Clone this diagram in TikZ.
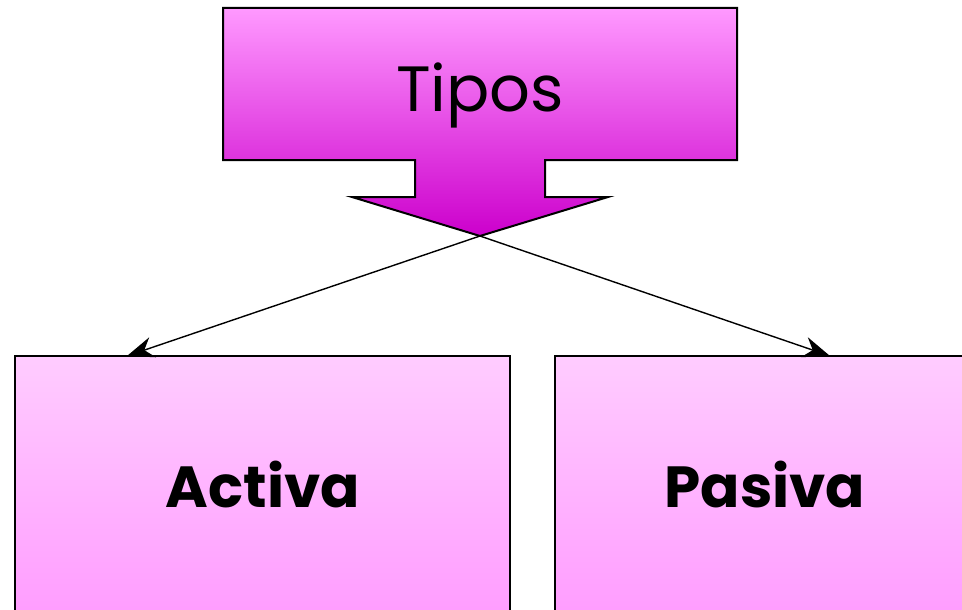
\documentclass[tikz,border=0pt]{standalone}
\usepackage{fontspec}
\setmainfont{Poppins}
\usetikzlibrary{arrows.meta}
\definecolor{lila}{HTML}{FF99FF}
\definecolor{lilaclaro}{HTML}{FFCCFF}
\definecolor{morado}{HTML}{CC00CC}
\begin{document}
\begin{tikzpicture}[x=1pt,y=-1pt,>={Stealth[length=27pt,width=21pt]}]
            \useasboundingbox (0,0) rectangle (962,610);
            \clip (0,0) rectangle (962,610);
            % caja con flecha hacia abajo
            \draw[line width=2pt,top color=lila,bottom color=morado]
                (223,8) -- (737,8) -- (737,160) -- (545,160) -- (545,197) -- (608,197)
                -- (480,236) -- (352,197) -- (415,197) -- (415,160) -- (223,160) -- cycle;
            \coordinate (punta) at (480,236);
            \node[font=\fontsize{64}{72}\selectfont] (tipos) at (480,95) {Tipos};
            \foreach \x/\c/\nombre/\fin in {15/263/Activa/127, 555/765/Pasiva/830} {
                \draw[line width=2pt,top color=lilaclaro,bottom color=lila] (\x,356) rectangle ++(495,280);
                \node[font=\bfseries\fontsize{58}{66}\selectfont] (\nombre) at (\c,484) {\nombre};
                \coordinate (\nombre-in) at (\fin,356);
            }
            \draw[line width=1.4pt,->] (punta) -- (Activa-in);
            \draw[line width=1.4pt,->] (punta) -- (Pasiva-in);
        \end{tikzpicture}
\end{document}
